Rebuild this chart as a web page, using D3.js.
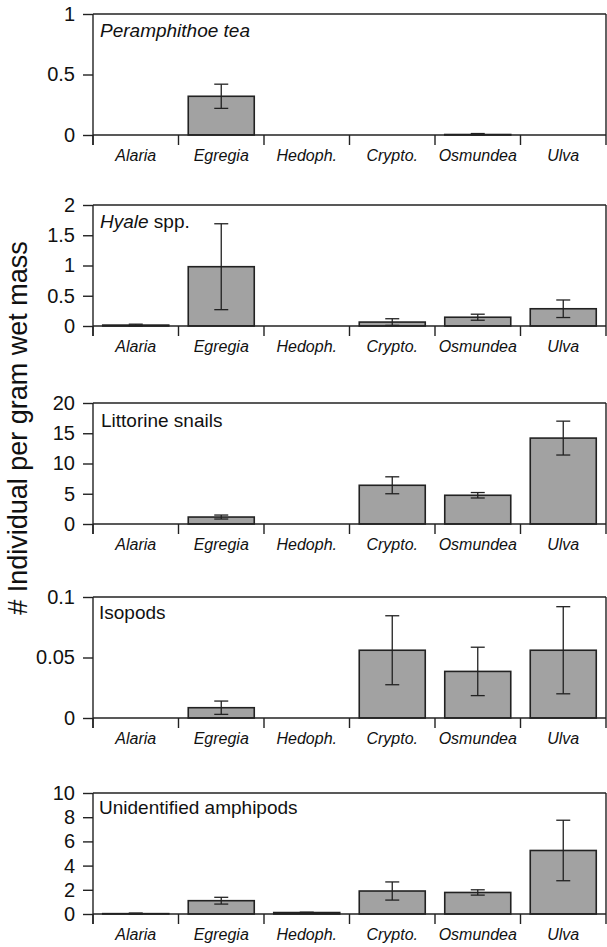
<!DOCTYPE html>
<html>
<head>
<meta charset="utf-8">
<script src="https://cdn.jsdelivr.net/npm/d3@7"></script>
<style>
  body { margin: 0; background: #fff; }
  svg text { font-family: "Liberation Sans", Arial, sans-serif; fill: #111; }
</style>
</head>
<body>
<div id="chart"></div>
<script>
// categories (algae)
var categories = ["Alaria", "Egregia", "Hedoph.", "Crypto.", "Osmundea", "Ulva"];

// panel values (mean, error)
var peraMean = [0, 0.32, 0, 0, 0.004, 0];
var peraErr  = [0, 0.10, 0, 0, 0.008, 0];
var hyaleMean = [0.015, 0.98, 0, 0.065, 0.145, 0.285];
var hyaleErr  = [0.015, 0.71, 0, 0.055, 0.05, 0.145];
var snailMean = [0, 1.15, 0, 6.4, 4.75, 14.2];
var snailErr  = [0, 0.33, 0, 1.4, 0.45, 2.8];
var isoMean = [0, 0.0085, 0, 0.056, 0.0385, 0.056];
var isoErr  = [0, 0.0055, 0, 0.0285, 0.02, 0.036];
var amphMean = [0.03, 1.1, 0.12, 1.9, 1.78, 5.25];
var amphErr  = [0.05, 0.28, 0.03, 0.75, 0.22, 2.5];

// tick labels per panel
var peraTicks = [0, 0.5, 1];
var hyaleTicks = [0, 0.5, 1, 1.5, 2];
var snailTicks = [0, 5, 10, 15, 20];
var isoTicks = [0, 0.05, 0.1];
var amphTicks = [0, 2, 4, 6, 8, 10];

var panels = [
  {mean: peraMean, err: peraErr, ticks: peraTicks, top: 14, dy: 23},
  {mean: hyaleMean, err: hyaleErr, ticks: hyaleTicks, top: 205, dy: 23},
  {mean: snailMean, err: snailErr, ticks: snailTicks, top: 403, dy: 23.5},
  {mean: isoMean, err: isoErr, ticks: isoTicks, top: 597, dy: 21.5},
  {mean: amphMean, err: amphErr, ticks: amphTicks, top: 793, dy: 20.5}
];

var W = 607, H = 947;
var left = 93, right = 606, panelH = 121;
var ink = "#222";

var svg = d3.select("#chart")
            .append("svg")
            .attr("width", W)
            .attr("height", H);

var x = d3.scaleBand()
          .domain(categories)
          .range([left, right])
          .paddingInner(0.228)
          .paddingOuter(0.114);

panels.forEach(function(p, pi) {
    var y = d3.scaleLinear()
              .domain([0, d3.max(p.ticks)])
              .range([p.top + panelH, p.top]);
    var zero = y(0);
    var g = svg.append("g");

    // box: top and right border
    g.append("line")
     .attr("x1", left).attr("x2", right)
     .attr("y1", p.top).attr("y2", p.top)
     .attr("stroke", ink).attr("stroke-width", 1.4);
    g.append("line")
     .attr("x1", right).attr("x2", right)
     .attr("y1", p.top).attr("y2", zero)
     .attr("stroke", ink).attr("stroke-width", 1.4);

    // Y axis
    var yAxis = g.append("g")
     .attr("transform", "translate(" + left + ",0)")
     .call(d3.axisLeft(y).tickValues(p.ticks).tickSize(10).tickPadding(8)
             .tickFormat(function(d) { return String(d); }));
    yAxis.select(".domain").remove();
    yAxis.selectAll("line").attr("stroke", ink).attr("stroke-width", 1.4);
    yAxis.selectAll("text")
         .style("font-size", "20px")
         .attr("font-family", "Liberation Sans, Arial, sans-serif")
         .attr("fill", "#111");

    // bars
    g.selectAll("rect.bar")
     .data(p.mean)
     .enter().append("rect")
     .attr("class", "bar")
     .attr("x", function(d, i) { return x(categories[i]); })
     .attr("width", x.bandwidth())
     .attr("y", function(d) { return y(d); })
     .attr("height", function(d) { return zero - y(d); })
     .attr("fill", "#a2a2a2")
     .attr("stroke", ink)
     .attr("stroke-width", 1.6);

    // zero line
    g.append("line")
     .attr("x1", left).attr("x2", right)
     .attr("y1", zero).attr("y2", zero)
     .attr("stroke", ink).attr("stroke-width", 1.4);

    // category boundary ticks and left axis
    var bounds = d3.range(categories.length + 1).map(function(i) { return left + i * x.step(); });
    g.append("line")
     .attr("x1", left).attr("x2", left)
     .attr("y1", p.top).attr("y2", zero + 10)
     .attr("stroke", ink).attr("stroke-width", 1.4);
    g.selectAll("line.xt")
     .data(bounds)
     .enter().append("line")
     .attr("class", "xt")
     .attr("x1", function(d) { return d; })
     .attr("x2", function(d) { return d; })
     .attr("y1", zero).attr("y2", zero + 10)
     .attr("stroke", ink).attr("stroke-width", 1.4);

    // category labels
    var xAxis = g.append("g")
     .attr("transform", "translate(0," + zero + ")")
     .call(d3.axisBottom(x).tickSize(0).tickPadding(15));
    xAxis.select(".domain").remove();
    xAxis.selectAll("text")
         .style("font-size", "16px")
         .style("font-style", "italic")
         .attr("font-family", "Liberation Sans, Arial, sans-serif")
         .attr("fill", "#111");

    // error bars
    var eb = g.selectAll("g.err")
     .data(p.mean.map(function(m, i) { return {m: m, e: p.err[i], c: categories[i]}; })
                 .filter(function(d) { return d.e > 0; }))
     .enter().append("g").attr("class", "err");
    var cx = function(d) { return x(d.c) + x.bandwidth() / 2; };
    eb.append("line")
      .attr("x1", cx).attr("x2", cx)
      .attr("y1", function(d) { return y(d.m + d.e); })
      .attr("y2", function(d) { return y(Math.max(0, d.m - d.e)); })
      .attr("stroke", ink).attr("stroke-width", 1.3);
    [function(d) { return y(d.m + d.e); }, function(d) { return y(Math.max(0, d.m - d.e)); }]
      .forEach(function(fy) {
        eb.append("line")
          .attr("x1", function(d) { return cx(d) - 7; })
          .attr("x2", function(d) { return cx(d) + 7; })
          .attr("y1", fy).attr("y2", fy)
          .attr("stroke", ink).attr("stroke-width", 1.3);
      });
});

// panel titles
var tx = 100;
svg.append("text").attr("x", tx).attr("y", panels[0].top + panels[0].dy)
   .style("font-size", "19px").style("font-style", "italic").text("Peramphithoe tea");
var t2 = svg.append("text").attr("x", tx).attr("y", panels[1].top + panels[1].dy)
            .style("font-size", "19px");
t2.append("tspan").style("font-style", "italic").text("Hyale");
t2.append("tspan").text(" spp.");
svg.append("text").attr("x", tx + 1).attr("y", panels[2].top + panels[2].dy)
   .style("font-size", "19px").text("Littorine snails");
svg.append("text").attr("x", tx - 1).attr("y", panels[3].top + panels[3].dy)
   .style("font-size", "19px").text("Isopods");
svg.append("text").attr("x", tx - 1).attr("y", panels[4].top + panels[4].dy)
   .style("font-size", "19px").text("Unidentified amphipods");

// y axis title
svg.append("text")
   .attr("transform", "translate(27,428) rotate(-90)")
   .attr("text-anchor", "middle")
   .style("font-size", "27px")
   .text("# Individual per gram wet mass");
</script>
</body>
</html>
